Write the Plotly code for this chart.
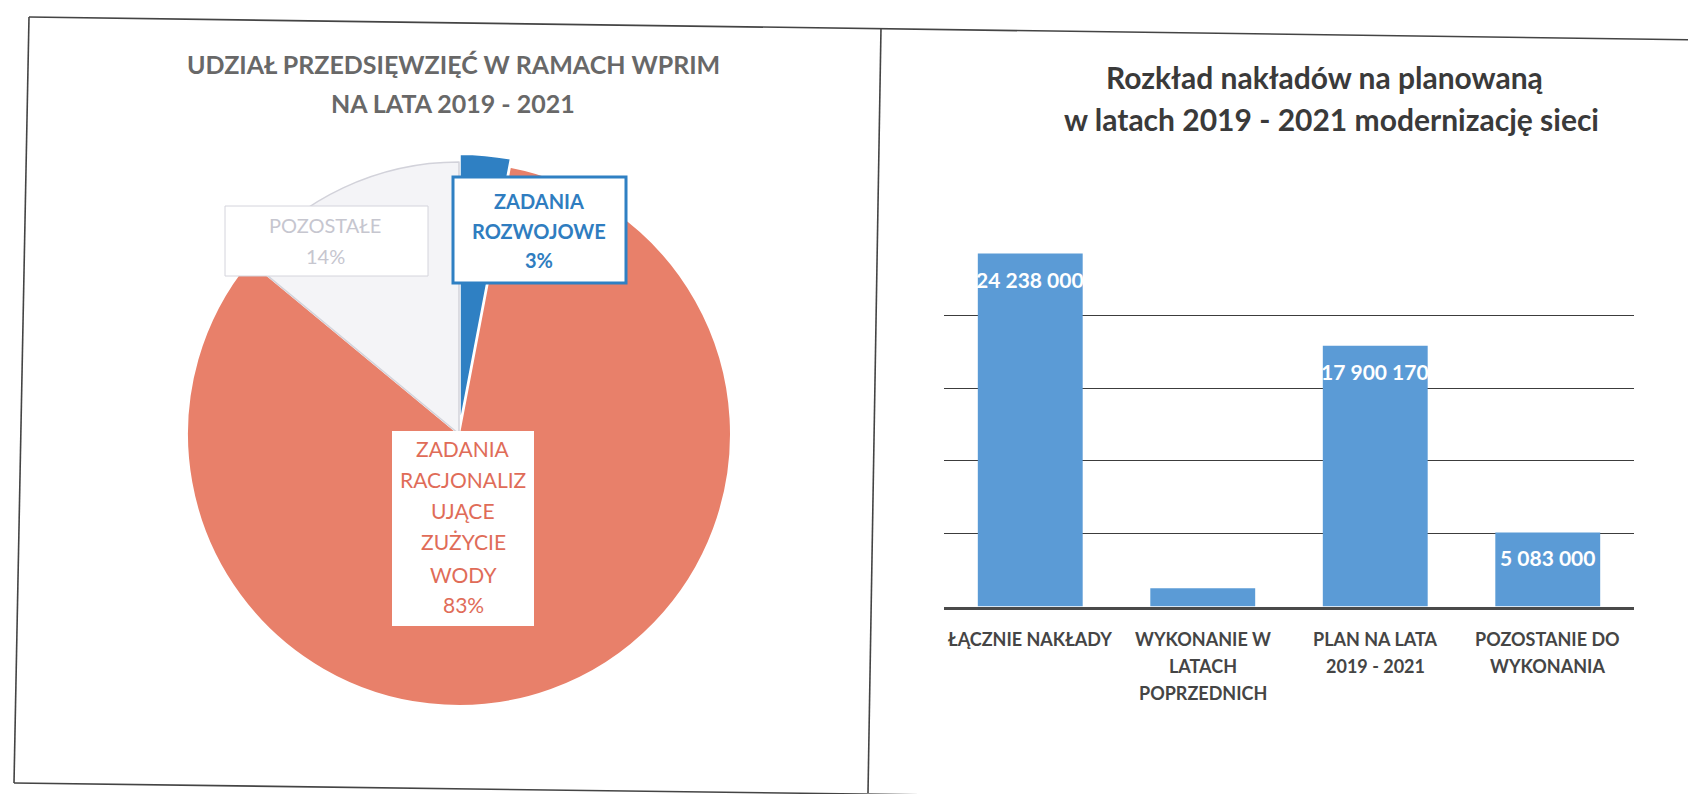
import plotly.graph_objects as go

W, H = 1696, 794

# ---------------- data ----------------
pie_labels = ["ZADANIA ROZWOJOWE", "ZADANIA RACJONALIZUJĄCE ZUŻYCIE WODY", "POZOSTAŁE"]
pie_values = [3, 83, 14]
pie_label_lines = [["ZADANIA", "ROZWOJOWE"],
                   ["ZADANIA", "RACJONALIZ", "UJĄCE", "ZUŻYCIE", "WODY"],
                   ["POZOSTAŁE"]]

bar_categories = ["ŁĄCZNIE NAKŁADY", "WYKONANIE W LATACH POPRZEDNICH",
                  "PLAN NA LATA 2019 - 2021", "POZOSTANIE DO WYKONANIA"]
bar_category_lines = [["ŁĄCZNIE NAKŁADY"], ["WYKONANIE W", "LATACH", "POPRZEDNICH"],
                      ["PLAN NA LATA", "2019 - 2021"], ["POZOSTANIE DO", "WYKONANIA"]]
bar_values = [24238000, 1254830, 17900170, 5083000]
bar_text = ["24 238 000", "", "17 900 170", "5 083 000"]
y_grid = [5000000, 10000000, 15000000, 20000000]

left_title = ["UDZIAŁ PRZEDSIĘWZIĘĆ W RAMACH WPRIM", "NA LATA 2019 - 2021"]
right_title = ["Rozkład nakładów na planowaną", "w latach 2019 - 2021 modernizację sieci"]

# ---------------- helpers ----------------
def px(x):
    return x / W

def py(y):
    return 1 - y / H

FONT = "Lato"
pie_colors = ["#2F80C3", "#E8806A", "#F4F4F7"]
pie_text_colors = ["#2F7DC0", "#E06C58", "#C6C6CF"]

fig = go.Figure()

# ---------------- pie ----------------
pull = 0.03
r = 272
cx, cy = 451, 426
half = r * (1 + pull)
fig.add_trace(go.Pie(
    labels=pie_labels, values=pie_values, sort=False, direction="clockwise",
    rotation=0, pull=[pull, 0, 0], textinfo="none", hoverinfo="label+percent",
    marker=dict(colors=pie_colors, line=dict(color=["white", "white", "#D2D2DA"], width=[2, 2, 1.5])),
    domain=dict(x=[px(cx - half), px(cx + half)], y=[py(cy + half), py(cy - half)]),
    showlegend=False,
))

# ---------------- bars ----------------
fig.add_trace(go.Bar(
    x=bar_categories, y=bar_values, marker=dict(color="#5B9BD6", line=dict(width=0)),
    showlegend=False, hoverinfo="x+y",
))

annotations = []
shapes = []

# titles (one annotation per line)
left_pos = [(445, 56), (445, 95)]
for t, (x, y) in zip(left_title, left_pos):
    annotations.append(dict(text="<b>%s</b>" % t, x=px(x), y=py(y), xref="paper", yref="paper",
                            showarrow=False, font=dict(family=FONT, size=25, color="#686868"),
                            xanchor="center", yanchor="middle"))
right_pos = [(1317, 69), (1323, 111)]
for t, (x, y) in zip(right_title, right_pos):
    annotations.append(dict(text="<b>%s</b>" % t, x=px(x), y=py(y), xref="paper", yref="paper",
                            showarrow=False, font=dict(family=FONT, size=30, color="#3A3A3A"),
                            xanchor="center", yanchor="middle"))

# pie label boxes: rectangle + one annotation per line
label_boxes = [
    dict(x0=445, x1=618, y0=169, y1=275, cx=531, ly=[193, 223, 252], border="#2F80C3", bw=3, size=20, bold=True),
    dict(x0=384, x1=526, y0=423, y1=618, cx=455, ly=[440, 471, 503, 533, 566, 596], border="white", bw=0, size=21, bold=False),
    dict(x0=217, x1=420, y0=198, y1=268, cx=317, ly=[217, 248], border="#D4D4DC", bw=1, size=20, bold=False),
]
for i, b in enumerate(label_boxes):
    shapes.append(dict(type="rect", xref="paper", yref="paper",
                       x0=px(b["x0"]), x1=px(b["x1"]), y0=py(b["y1"]), y1=py(b["y0"]),
                       fillcolor="white", line=dict(color=b["border"], width=b["bw"]), layer="above"))
    lines = pie_label_lines[i] + ["%d%%" % pie_values[i]]
    for t, y in zip(lines, b["ly"]):
        txt = "<b>%s</b>" % t if b["bold"] else t
        annotations.append(dict(text=txt, x=px(b["cx"]), y=py(y), xref="paper", yref="paper",
                                showarrow=False, xanchor="center", yanchor="middle",
                                font=dict(family=FONT, size=b["size"], color=pie_text_colors[i])))

# bar value labels
for c, v, t in zip(bar_categories, bar_values, bar_text):
    if t:
        annotations.append(dict(text="<b>%s</b>" % t, x=c, y=v, xref="x", yref="y", showarrow=False,
                                yanchor="top", yshift=-11,
                                font=dict(family=FONT, size=21, color="white")))

# category labels (one annotation per line for Excel-like spacing)
for c, lines in zip(bar_categories, bar_category_lines):
    for k, t in enumerate(lines):
        annotations.append(dict(text="<b>%s</b>" % t, x=c, y=py(631 + 27 * k), xref="x", yref="paper",
                                showarrow=False, xanchor="center", yanchor="middle",
                                font=dict(family=FONT, size=18, color="#454545")))

# panel borders (slightly tilted like the scan)
border = dict(type="line", xref="paper", yref="paper", line=dict(color="#444444", width=1.6))
shapes += [
    dict(border, x0=px(21), y0=py(9), x1=px(1696), y1=py(32)),      # top
    dict(border, x0=px(21), y0=py(9), x1=px(6), y1=py(775)),        # left
    dict(border, x0=px(873), y0=py(20), x1=px(860), y1=py(785)),    # middle
    dict(border, x0=px(6), y0=py(775), x1=px(1696), y1=py(797)),    # bottom
]

fig.update_layout(
    width=W, height=H, margin=dict(l=0, r=0, t=0, b=0),
    paper_bgcolor="white", plot_bgcolor="white",
    bargap=0.392,
    xaxis=dict(domain=[px(936), px(1626)], showline=True, linecolor="#4A4A4A", linewidth=3,
               ticks="", showticklabels=False),
    yaxis=dict(domain=[py(598.5), py(234.5)], range=[0, 25000000], tickvals=y_grid,
               showticklabels=False, showgrid=True, gridcolor="#3C3C3C", gridwidth=1,
               zeroline=False, showline=False),
    annotations=annotations, shapes=shapes,
    font=dict(family=FONT),
)

fig.write_html("out.html")
